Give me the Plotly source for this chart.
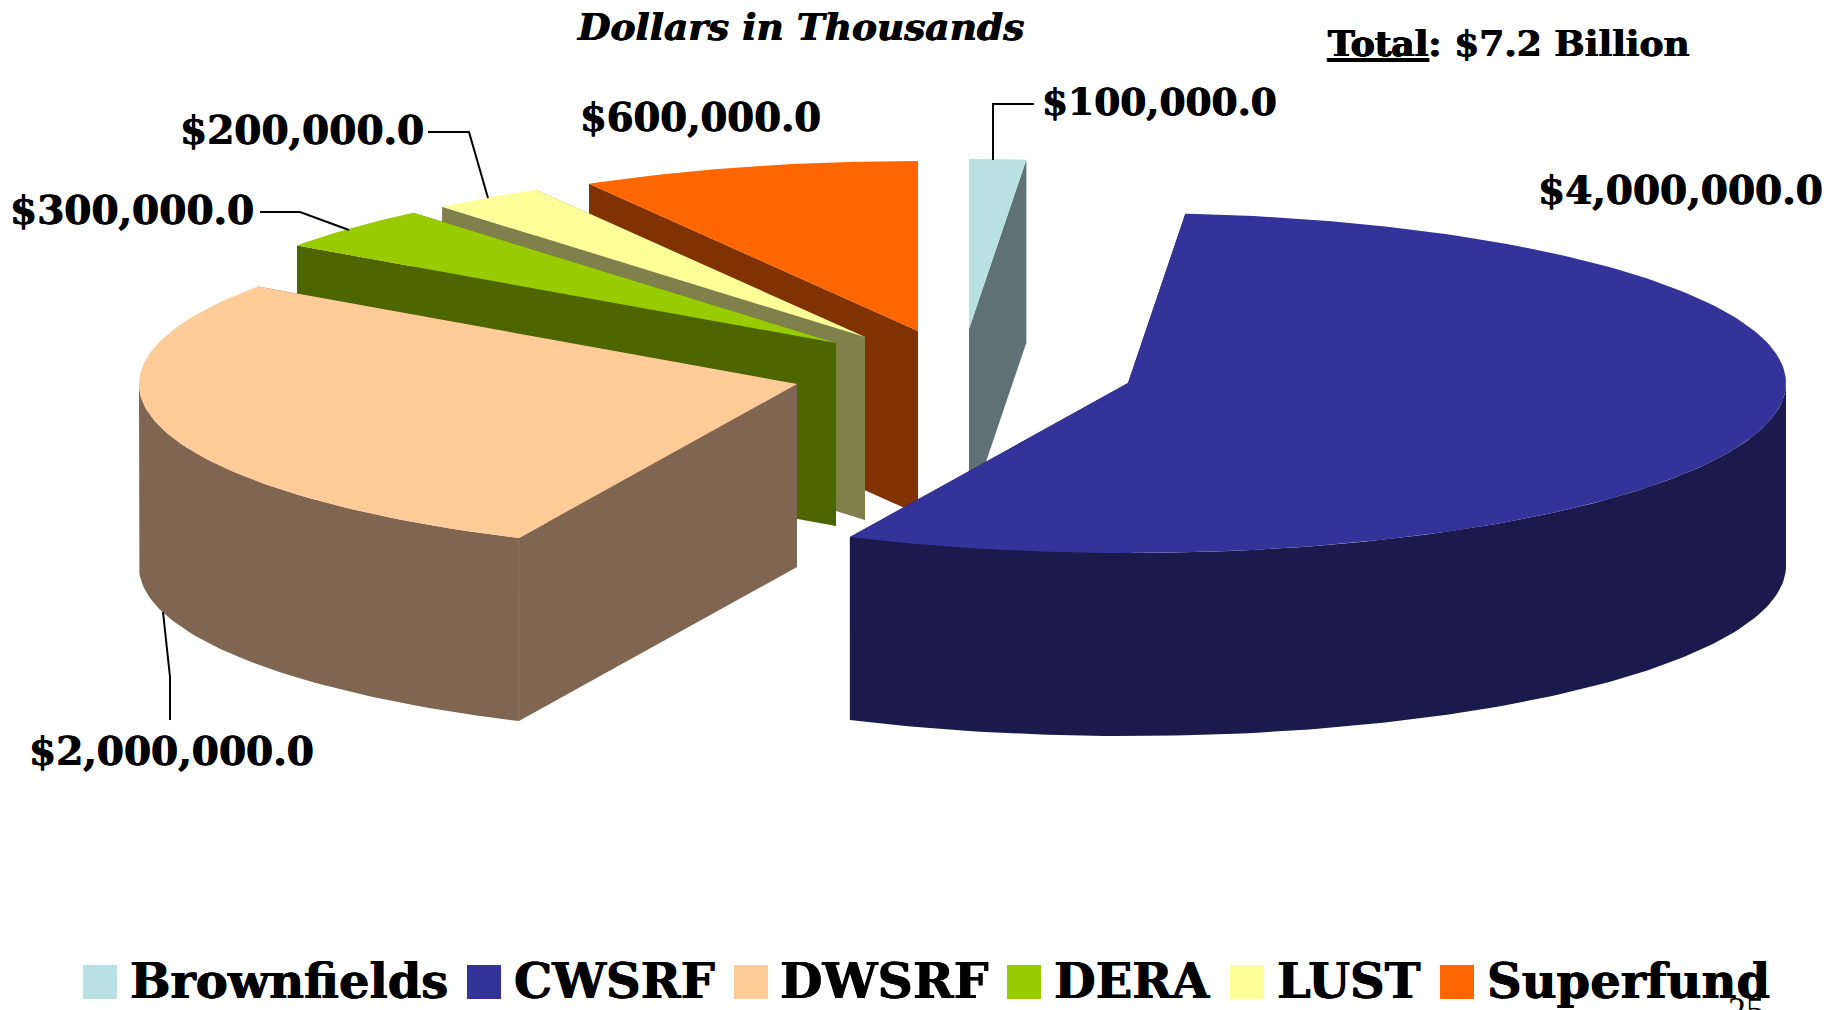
import math
import plotly.graph_objects as go

# ---- data ----
categories = ["Brownfields", "CWSRF", "DWSRF", "DERA", "LUST", "Superfund"]
values = [100000, 4000000, 2000000, 300000, 200000, 600000]
value_labels = ["$100,000.0", "$4,000,000.0", "$2,000,000.0", "$300,000.0", "$200,000.0", "$600,000.0"]
subtitle = "<b><i>Dollars in Thousands</i></b>"
total_label = "<b><u>Total</u>: $7.2 Billion</b>"

# ---- styles ----
top_colors = ["#B9E1E3", "#333399", "#FFCC99", "#99CC00", "#FFFF99", "#FF6600"]
wall_colors = ["#5F7174", "#1A1A4D", "#806650", "#4D6600", "#80804D", "#803300"]

# ---- geometry of the exploded pie (pixel space of the page) ----
RX, RY, DEPTH = 658, 170, 183
apex = [(969, 329), (1128, 383), (797, 384), (836, 343), (865, 337), (918, 331)]
draw_order = [5, 4, 3, 2, 0, 1]
FONT = "DejaVu Serif"
HEAVY = "0.5px 0 0 black, -0.5px 0 0 black"

total = sum(values)
starts, a = [], 0.0
for v in values:
    starts.append(a)
    a += 360.0 * v / total
ends = [s + 360.0 * v / total for s, v in zip(starts, values)]


def rim(i, deg):
    t = math.radians(deg)
    return apex[i][0] + RX * math.sin(t), apex[i][1] - RY * math.cos(t)


def arc(i, a0, a1):
    n = max(2, int(abs(a1 - a0)) + 1)
    return [rim(i, a0 + (a1 - a0) * k / (n - 1)) for k in range(n)]


def poly(pts, color, name):
    xs = [p[0] for p in pts] + [pts[0][0]]
    ys = [p[1] for p in pts] + [pts[0][1]]
    return go.Scatter(x=xs, y=ys, mode="lines", fill="toself", fillcolor=color,
                      line=dict(width=0, color=color), name=name,
                      hoverinfo="name", showlegend=False)


def down(pts):
    return [(x, y + DEPTH) for x, y in pts]


fig = go.Figure()
for i in draw_order:
    s, e = starts[i], ends[i]
    ap = apex[i]
    for ang in (s, e):
        edge = [ap, rim(i, ang)]
        fig.add_trace(poly(edge + down(edge)[::-1], wall_colors[i], categories[i]))
    r0, r1 = max(s, 90), min(e, 270)
    if r1 > r0:
        ring = arc(i, r0, r1)
        fig.add_trace(poly(ring + down(ring)[::-1], wall_colors[i], categories[i]))
    fig.add_trace(poly([ap] + arc(i, s, e), top_colors[i], categories[i]))

# leader lines
leaders = [
    ([1034, 993, 993], [104, 104, 160]),
    ([428, 469, 488], [132, 132, 198]),
    ([260, 300, 349], [212, 212, 230]),
    ([163, 170, 170], [612, 677, 720]),
]
for lx, ly in leaders:
    fig.add_trace(go.Scatter(x=lx, y=ly, mode="lines", line=dict(color="black", width=2),
                             hoverinfo="skip", showlegend=False))

# legend swatches
swatch_x = [100, 484, 751, 1024, 1247, 1457]
fig.add_trace(go.Scatter(x=swatch_x, y=[982] * 6, mode="markers",
                         marker=dict(symbol="square", size=34, color=top_colors, line=dict(width=0)),
                         hoverinfo="skip", showlegend=False))

ann = []


def text(x, y, t, size, anchor="center", bold=True):
    ann.append(dict(x=x, y=y, xref="x", yref="y", text=f"<b>{t}</b>" if bold else t, showarrow=False,
                    xanchor=anchor, yanchor="middle",
                    font=dict(family=FONT, size=size, color="black", shadow=HEAVY)))


label_pos = [(1159, 102), (1680, 190), (171, 751), (132, 210), (302, 130), (700, 117)]
label_size = [37.5, 39, 39, 39, 39, 38.5]
for (x, y), t, sz in zip(label_pos, value_labels, label_size):
    text(x, y, t, sz)

legend_text_x = [128, 512, 778, 1052, 1275, 1485]
legend_size = [48, 48, 49, 48, 48, 48]
for x, t, sz in zip(legend_text_x, categories, legend_size):
    text(x, 981, t, sz, anchor="left")

text(800, 27, subtitle, 37.5, bold=False)
text(1509, 43, total_label, 36, bold=False)
ann.append(dict(x=1746 / 1839, y=0, xref="paper", yref="paper", yshift=0, text="25", showarrow=False,
                xanchor="center", yanchor="middle",
                font=dict(family="Liberation Serif", size=36, color="black")))

fig.update_layout(
    width=1839, height=1010, margin=dict(l=0, r=0, t=0, b=0),
    paper_bgcolor="white", plot_bgcolor="white", showlegend=False,
    xaxis=dict(range=[0, 1839], visible=False, fixedrange=True),
    yaxis=dict(range=[1010, 0], visible=False, fixedrange=True),
    annotations=ann,
)
fig.write_html("out.html", config=dict(displayModeBar=False),
               post_script="document.body.style.margin='0';document.body.style.overflow='hidden';")
